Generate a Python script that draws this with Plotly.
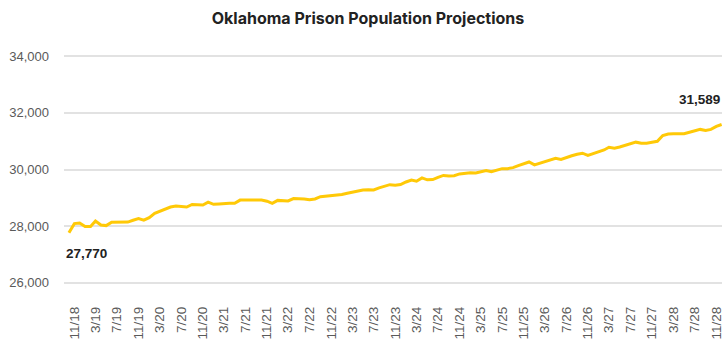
import pandas as pd
import plotly.graph_objects as go

# Monthly projected prison population, starting October 2018
title = "Oklahoma Prison Population Projections"
start_month = "2018-10-01"
population = [
    27770, 28090, 28110, 27985, 27990, 28180, 28040, 28020, 28140, 28145,
    28145, 28145, 28210, 28265, 28210, 28300, 28450, 28515, 28590, 28675,
    28710, 28690, 28675, 28765, 28750, 28745, 28850, 28770, 28785, 28800,
    28805, 28805, 28920, 28920, 28920, 28920, 28920, 28880, 28805, 28910,
    28900, 28890, 28975, 28975, 28955, 28930, 28960, 29040, 29060, 29055,
    29075, 29115, 29160, 29200, 29240, 29275, 29285, 29280, 29350, 29415,
    29465, 29445, 29470, 29560, 29630, 29585, 29705, 29635, 29645, 29725,
    29790, 29775, 29780, 29845, 29870, 29885, 29880, 29915, 29965, 29920,
    29985, 30030, 30030, 30065, 30135, 30200, 30265, 30165, 30230, 30290,
    30350, 30395, 30355, 30430, 30485, 30540, 30575, 30495, 30555, 30625,
    30690, 30785, 30755, 30795, 30855, 30920, 30965, 30930, 30925, 30960,
    30995, 31200, 31255, 31265, 31265, 31265, 31315, 31375, 31415, 31380,
    31415, 31520, 31589,
]
tick_labels = [
    "11/18", "3/19", "7/19", "11/19", "3/20", "7/20", "11/20", "3/21",
    "7/21", "11/21", "3/22", "7/22", "11/22", "3/23", "7/23", "11/23",
    "3/24", "7/24", "11/24", "3/25", "7/25", "11/25", "3/26", "7/26",
    "11/26", "3/27", "7/27", "11/27", "3/28", "7/28", "11/28",
]
y_ticks = [26000, 28000, 30000, 32000, 34000]

months = pd.date_range(start_month, periods=len(population), freq="MS")
tick_dates = [
    pd.Timestamp(2000 + int(lbl.split("/")[1]), int(lbl.split("/")[0]), 1)
    for lbl in tick_labels
]

LINE = "#FFC907"
GRID = "#e2e2e2"
FAMILY = "Liberation Sans, Arial, sans-serif"
Y_TICK_FONT = dict(family=FAMILY, size=13, color="#5a5a5a")
X_TICK_FONT = dict(family=FAMILY, size=13.5, color="#5a5a5a")
LABEL_FONT = dict(family=FAMILY, size=13.5, color="#222222")

fig = go.Figure(
    go.Scatter(
        x=months,
        y=population,
        mode="lines",
        line=dict(color=LINE, width=3),
        hoverinfo="skip",
    )
)

# End-point value labels
fig.add_annotation(
    x=months[0], y=population[0], text=f"<b>{population[0]:,}</b>",
    showarrow=False, xanchor="left", yanchor="middle",
    xshift=-5, yshift=-21, font=LABEL_FONT,
)
fig.add_annotation(
    x=months[-1], y=population[-1], text=f"<b>{population[-1]:,}</b>",
    showarrow=False, xanchor="right", yanchor="middle",
    xshift=0, yshift=25, font=LABEL_FONT,
)

fig.update_layout(
    width=722,
    height=340,
    margin=dict(l=64, r=0, t=42, b=43),
    paper_bgcolor="white",
    plot_bgcolor="white",
    showlegend=False,
    title=dict(
        text=f"<b>{title}</b>",
        x=368 / 722, xanchor="center",
        y=1 - 18 / 340, yanchor="middle", yref="container",
        font=dict(family="Inter, Roboto, sans-serif", size=16, color="#222222"),
    ),
    xaxis=dict(
        type="date",
        range=["2018-09-03", "2028-12-03"],
        tickvals=tick_dates,
        ticktext=tick_labels,
        tickangle=-90,
        tickfont=X_TICK_FONT,
        showgrid=False,
        zeroline=False,
        showline=False,
        ticks="",
        automargin=False,
        ticklabelstandoff=6,
        ticklabeloverflow="allow",
    ),
    yaxis=dict(
        range=[25500, 34500],
        tickvals=y_ticks,
        tickformat=",d",
        tickfont=Y_TICK_FONT,
        showgrid=True,
        gridcolor=GRID,
        gridwidth=2,
        zeroline=False,
        showline=False,
        ticks="",
        automargin=False,
        ticklabelstandoff=14,
    ),
)

fig.write_html("out.html")
